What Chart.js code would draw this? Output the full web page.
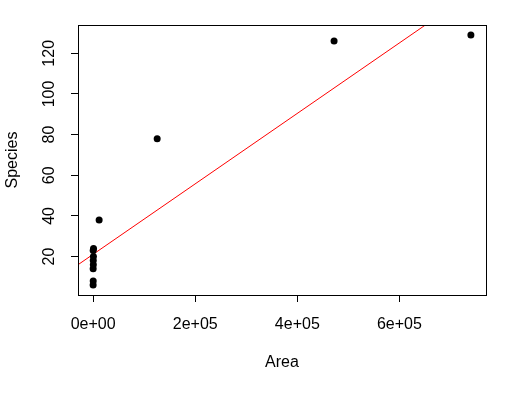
<!DOCTYPE html>
<html>
<head>
<meta charset="utf-8">
<script src="https://cdn.jsdelivr.net/npm/chart.js@4/dist/chart.umd.min.js"></script>
<style>
  body { margin: 0; background: #fff; }
  #c { display: block; }
</style>
</head>
<body>
<canvas id="c" width="527" height="393"></canvas>
<script>
// island data
const area = [50, 200, 100, 400, 300, 600, 150, 800, 11800, 125500, 472000, 740000]
const species = [6, 8, 14, 16, 18, 20, 23, 24, 38, 78, 126, 129]

// fitted line, end points at the plot edges
const fitX = [-29600, 769600]
const fitY = [15.97, 154.5]

const xTicks = [0, 200000, 400000, 600000]
const xTickLabels = ['0e+00', '2e+05', '4e+05', '6e+05']
const yTicks = [20, 40, 60, 80, 100, 120]
const yTickLabels = ['20', '40', '60', '80', '100', '120']

const FONT = '16px "Liberation Sans", Arial, sans-serif'

// box + tick labels + axis titles, R style
const rPlot = {
  id: 'rPlot',
  afterDraw(chart) {
    const ctx = chart.ctx
    const a = chart.chartArea
    const xs = chart.scales.x
    const ys = chart.scales.y
    ctx.save()
    ctx.strokeStyle = '#000'
    ctx.lineWidth = 1
    ctx.strokeRect(Math.round(a.left) + 0.5, Math.round(a.top) + 0.5,
      Math.round(a.right - a.left), Math.round(a.bottom - a.top))

    ctx.fillStyle = '#000'
    ctx.font = FONT
    ctx.textAlign = 'center'
    ctx.textBaseline = 'middle'
    xTicks.forEach((v, i) => {
      ctx.fillText(xTickLabels[i], xs.getPixelForValue(v), a.bottom + 30)
    })
    ctx.fillText('Area', (a.left + a.right) / 2, a.bottom + 68)

    yTicks.forEach((v, i) => {
      ctx.save()
      ctx.translate(a.left - 28, ys.getPixelForValue(v))
      ctx.rotate(-Math.PI / 2)
      ctx.fillText(yTickLabels[i], 0, 0)
      ctx.restore()
    })
    ctx.translate(13, (a.top + a.bottom) / 2)
    ctx.rotate(-Math.PI / 2)
    ctx.fillText('Species', 0, 0)
    ctx.restore()
  }
}

new Chart(document.getElementById('c'), {
  type: 'scatter',
  data: {
    datasets: [
      {
        data: area.map((v, i) => ({ x: v, y: species[i] })),
        backgroundColor: '#000',
        borderWidth: 0,
        pointRadius: 3.5,
        pointHoverRadius: 3.5,
      },
      {
        type: 'line',
        data: fitX.map((v, i) => ({ x: v, y: fitY[i] })),
        borderColor: '#ff0000',
        borderWidth: 1,
        pointRadius: 0,
        fill: false,
      },
    ],
  },
  options: {
    responsive: false,
    devicePixelRatio: 1,
    animation: false,
    layout: { padding: { top: 25, right: 41, left: 0, bottom: 0 } },
    plugins: {
      legend: { display: false },
      tooltip: { enabled: false },
    },
    scales: {
      x: {
        type: 'linear',
        min: -29600,
        max: 769600,
        afterBuildTicks: (s) => { s.ticks = xTicks.map(v => ({ value: v })) },
        afterFit: (s) => { s.height = 98 },
        ticks: { display: false },
        border: { display: false },
        grid: { drawOnChartArea: false, drawTicks: true, tickLength: 7, color: '#000' },
      },
      y: {
        type: 'linear',
        min: 1.08,
        max: 133.92,
        afterBuildTicks: (s) => { s.ticks = yTicks.map(v => ({ value: v })) },
        afterFit: (s) => { s.width = 78 },
        ticks: { display: false },
        border: { display: false },
        grid: { drawOnChartArea: false, drawTicks: true, tickLength: 7, color: '#000' },
      },
    },
  },
  plugins: [rPlot],
})
</script>
</body>
</html>
